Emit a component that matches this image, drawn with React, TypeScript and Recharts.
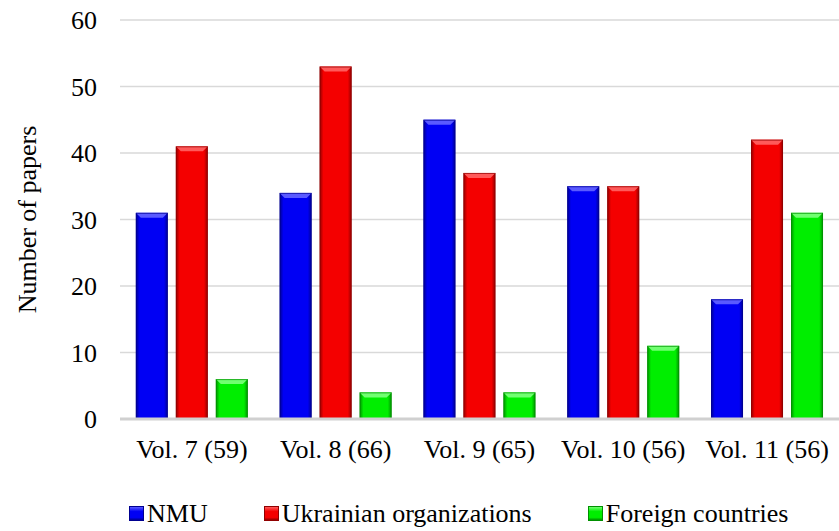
import { BarChart, Bar, XAxis, YAxis, CartesianGrid, Legend } from 'recharts'

const VOLUMES = ['Vol. 7 (59)', 'Vol. 8 (66)', 'Vol. 9 (65)', 'Vol. 10 (56)', 'Vol. 11 (56)']
const NMU = [31, 34, 45, 35, 18]
const UKRAINIAN = [41, 53, 37, 35, 42]
const FOREIGN = [6, 4, 4, 11, 31]
const Y_TICKS = [0, 10, 20, 30, 40, 50, 60]

const data = VOLUMES.map((vol, i) => ({
  vol,
  nmu: NMU[i],
  ukr: UKRAINIAN[i],
  foreign: FOREIGN[i],
}))

const FONT = '"Liberation Serif", "Times New Roman", serif'
const FONT_SIZE = 26

const PALETTE: Record<string, { main: string; dark: string; light: string }> = {
  nmu: { main: '#0000f4', dark: '#000090', light: '#5a5aff' },
  ukr: { main: '#f40000', dark: '#900000', light: '#ff5a5a' },
  foreign: { main: '#00ee00', dark: '#009000', light: '#70ff70' },
}

const SERIES = [
  { key: 'nmu', name: 'NMU' },
  { key: 'ukr', name: 'Ukrainian organizations' },
  { key: 'foreign', name: 'Foreign countries' },
]

const TEXT_STYLE = { fill: '#000', fontSize: FONT_SIZE, fontFamily: FONT }

// bevelled bar: darker side edges, lighter top chamfer
const bevelShape = (key: string) => (props: any) => {
  const { x, y, width, height } = props
  if (!height || height <= 0) return <g />
  const b = Math.min(5, height / 2)
  const c = PALETTE[key]
  return (
    <g>
      <rect x={x} y={y} width={width} height={height} fill={`url(#grad-${key})`} />
      <polygon
        points={`${x},${y} ${x + width},${y} ${x + width - b},${y + b} ${x + b},${y + b}`}
        fill={c.light}
      />
      <rect x={x + 0.5} y={y + 0.5} width={width - 1} height={height - 1} fill="none" stroke={c.dark} strokeWidth={1} strokeOpacity={0.7} />
    </g>
  )
}

const LegendContent = () => (
  <div
    style={{
      display: 'flex',
      height: 30,
      lineHeight: '30px',
      fontFamily: FONT,
      fontSize: FONT_SIZE,
      color: '#000',
      paddingLeft: 129,
      whiteSpace: 'nowrap',
    }}
  >
    {SERIES.map((s, i) => {
      const c = PALETTE[s.key]
      return (
        <div
          key={s.key}
          style={{
            display: 'flex',
            alignItems: 'center',
            flexShrink: 0,
            marginRight: i < SERIES.length - 1 ? 56 : 0,
          }}
        >
          <div
            style={{
              width: 15,
              height: 15,
              marginRight: 3,
              marginTop: -2,
              flexShrink: 0,
              background: `linear-gradient(to bottom, ${c.light} 0%, ${c.main} 35%, ${c.main} 80%, ${c.dark} 100%)`,
              border: `1px solid ${c.dark}`,
              boxSizing: 'border-box',
            }}
          />
          <span>{s.name}</span>
        </div>
      )
    })}
  </div>
)

export default function App() {
  return (
    <div style={{ position: 'absolute', left: 0, top: 0, background: '#fff' }}>
      <BarChart
        width={839}
        height={531}
        data={data}
        margin={{ top: 20, right: 0, left: 0, bottom: 52 }}
        barCategoryGap="11%"
        barGap={8}
      >
        <defs>
          {SERIES.map(s => {
            const c = PALETTE[s.key]
            return (
              <linearGradient key={s.key} id={`grad-${s.key}`} x1="0" y1="0" x2="1" y2="0">
                <stop offset="0%" stopColor={c.dark} />
                <stop offset="12%" stopColor={c.main} />
                <stop offset="88%" stopColor={c.main} />
                <stop offset="100%" stopColor={c.dark} />
              </linearGradient>
            )
          })}
        </defs>
        <CartesianGrid vertical={false} stroke="#d9d9d9" strokeWidth={1.5} />
        <XAxis
          dataKey="vol"
          axisLine={{ stroke: '#d0d0d0', strokeWidth: 3 }}
          tickLine={false}
          tick={TEXT_STYLE}
          tickMargin={15}
        />
        <YAxis
          width={120}
          domain={[0, 60]}
          ticks={Y_TICKS}
          axisLine={false}
          tickLine={false}
          tickMargin={17}
          tick={TEXT_STYLE}
          label={{
            value: 'Number of papers',
            angle: -90,
            position: 'insideLeft',
            dx: 22,
            style: { ...TEXT_STYLE, textAnchor: 'middle' },
          }}
        />
        <Legend
          verticalAlign="bottom"
          align="left"
          content={<LegendContent />}
          wrapperStyle={{ bottom: 2, left: 0, width: 839 }}
        />
        {SERIES.map(s => (
          <Bar
            key={s.key}
            dataKey={s.key}
            name={s.name}
            fill={PALETTE[s.key].main}
            shape={bevelShape(s.key)}
            isAnimationActive={false}
          />
        ))}
      </BarChart>
    </div>
  )
}
